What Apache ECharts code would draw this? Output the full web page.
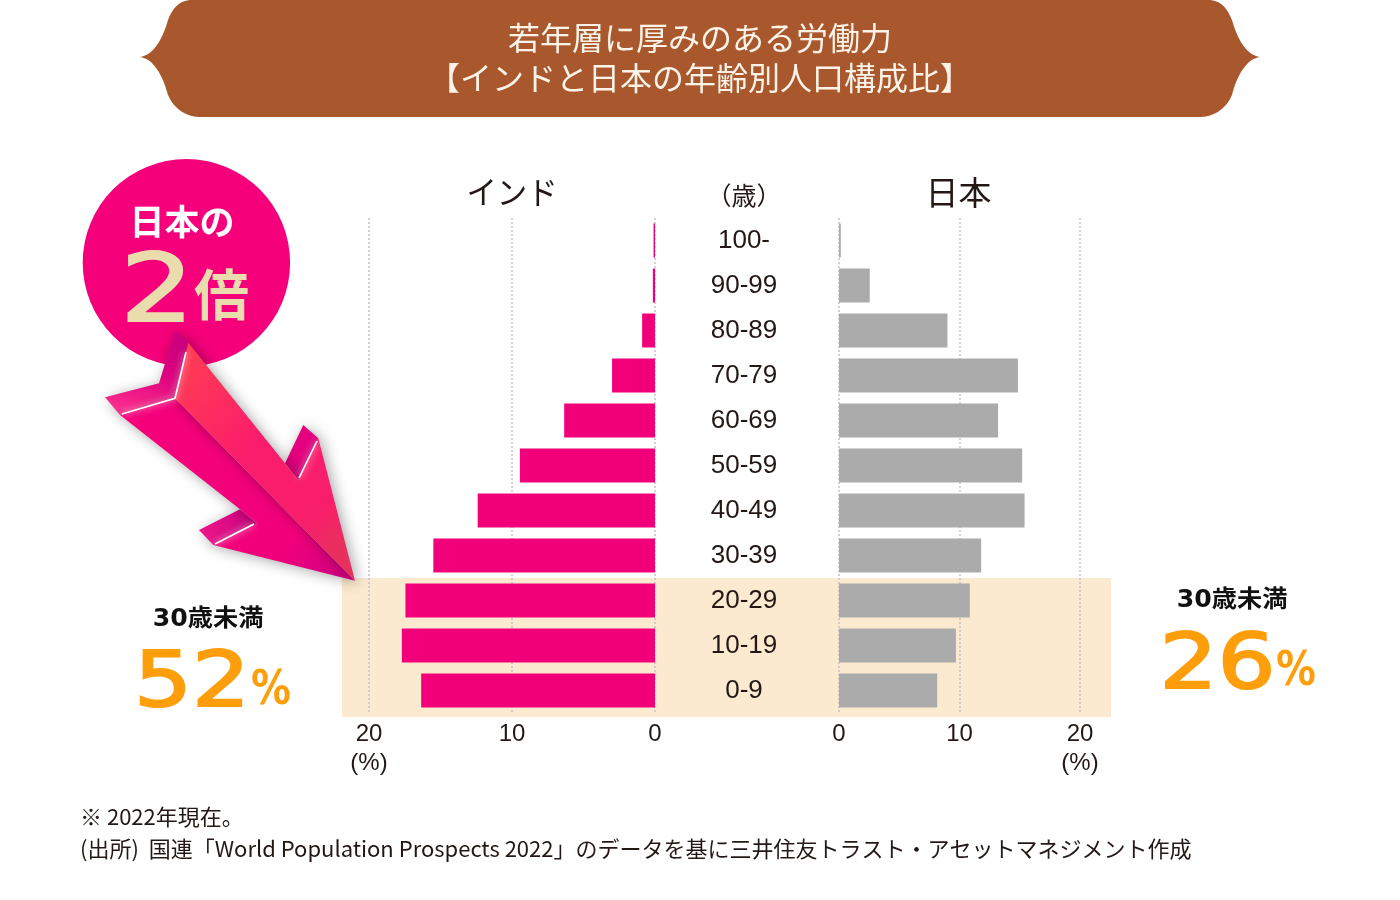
<!DOCTYPE html>
<html>
<head>
<meta charset="utf-8">
<style>
  html, body { margin: 0; padding: 0; background: #fff; }
  #main { width: 1400px; height: 900px; }
</style>
<script src="https://cdn.jsdelivr.net/npm/echarts@6/dist/echarts.min.js"></script>
</head>
<body>
<div id="main"></div>
<script>
const ageGroups = ['100-', '90-99', '80-89', '70-79', '60-69', '50-59', '40-49', '30-39', '20-29', '10-19', '0-9'];
const indiaShare = [0.1, 0.15, 0.9, 3.0, 6.35, 9.45, 12.4, 15.5, 17.45, 17.7, 16.35];
const japanShare = [0.15, 2.55, 9.0, 14.85, 13.2, 15.2, 15.4, 11.8, 10.85, 9.7, 8.15];

const JP = "'Noto Sans CJK JP'";
const NUM = "'Liberation Sans', 'Noto Sans CJK JP'";
const TECH = "'DejaVu Sans', 'Noto Sans CJK JP'";
const INK = '#231815';
const PINK = '#F2007A';
const GREY = '#ABABAB';
const ORANGE = '#FF9E0B';
const GOLD = '#EBDCAE';

// タイトルの帯（両端がとがった形）
echarts.graphic.registerShape('banner', echarts.graphic.extendShape({
  buildPath(ctx) {
    ctx.moveTo(192, 0);
    ctx.lineTo(1208, 0);
    ctx.bezierCurveTo(1222, 0, 1228, 10, 1232, 20);
    ctx.bezierCurveTo(1237, 38, 1246, 55, 1260, 57);
    ctx.bezierCurveTo(1246, 59, 1237, 76, 1232, 95);
    ctx.bezierCurveTo(1226, 110, 1212, 117, 1200, 117);
    ctx.lineTo(200, 117);
    ctx.bezierCurveTo(188, 117, 174, 110, 168, 95);
    ctx.bezierCurveTo(163, 76, 154, 59, 140, 57);
    ctx.bezierCurveTo(154, 55, 163, 38, 168, 20);
    ctx.bezierCurveTo(172, 10, 178, 0, 192, 0);
    ctx.closePath();
  }
}));

const myChart = echarts.init(document.getElementById('main'), null, { renderer: 'canvas' });

const grad = (x, y, x2, y2, stops) => new echarts.graphic.LinearGradient(x, y, x2, y2, stops);

function txt(x, y, text, font, fill, extra, sx, sy) {
  return {
    type: 'text', x: x, y: y, z: 5, scaleX: sx || 1, scaleY: sy || 1,
    style: Object.assign({
      text: text, font: font, fill: fill, textAlign: 'center', textVerticalAlign: 'middle'
    }, extra || {})
  };
}
function poly(points, fill, z, shadow) {
  const style = { fill: fill };
  if (shadow) {
    style.shadowBlur = 14;
    style.shadowColor = 'rgba(0,0,0,0.35)';
    style.shadowOffsetX = 3;
    style.shadowOffsetY = 2;
  }
  return { type: 'polygon', z: z, shape: { points: points }, style: style };
}
function shine(points) {
  return {
    type: 'polyline', z: 13,
    shape: { points: points },
    style: { stroke: '#fff', lineWidth: 1.6, fill: null, shadowBlur: 7, shadowColor: '#fff' }
  };
}

// 帯、吹き出し、矢印
const decorations = [
  { type: 'banner', z: 1, style: { fill: '#A9572C' } },
  { type: 'rect', z: -1, shape: { x: 342, y: 578, width: 769, height: 139 }, style: { fill: '#FBEACF' } },
  { type: 'circle', z: 3, shape: { cx: 186.4, cy: 262.7, r: 103.7 }, style: { fill: '#F5007A' } },

  // 矢印の折り返し
  poly([[175, 331], [188.3, 342.7], [175, 398.3], [120, 415], [105, 397.3], [159, 383.3]],
    grad(0.7, 0, 0.5, 1, [{ offset: 0, color: '#C9007F' }, { offset: 0.5, color: '#DE007E' }, { offset: 1, color: '#FF2E90' }]), 10, true),
  poly([[303.3, 425], [318.3, 438.3], [298.3, 480], [285, 463.3]], '#E4007F', 10, true),
  poly([[240, 509.3], [256.7, 523.3], [213.3, 545], [199, 530]],
    grad(1, 0, 0, 1, [{ offset: 0, color: '#C9007F' }, { offset: 1, color: '#F2188C' }]), 10, true),
  // 矢印の下面
  poly([[175, 398.3], [120, 415], [240, 509.3], [256.7, 523.3], [213.3, 545], [355, 580.7]],
    grad(0, 0, 1, 1, [{ offset: 0, color: '#F5007A' }, { offset: 0.75, color: '#F2007C' }, { offset: 1, color: '#C9007F' }]), 11, true),
  // 矢印の上面
  poly([[188.3, 342.7], [285, 463.3], [298.3, 480], [318.3, 438.3], [355, 580.7], [175, 398.3]],
    grad(0, 0, 1, 0.8, [{ offset: 0, color: '#FF4150' }, { offset: 0.5, color: '#FA1C6C' }, { offset: 0.85, color: '#F81F6A' }, { offset: 1, color: '#E8305E' }]), 12, true),

  shine([[186, 352], [175, 398.3], [122, 414]]),
  shine([[317, 441], [299, 478]]),
  shine([[254, 524], [215, 544]]),

  // タイトル
  txt(700, 38, '若年層に厚みのある労働力', '400 32px ' + JP, '#FBF3E8'),
  txt(700, 78, '【インドと日本の年齢別人口構成比】', '400 32px ' + JP, '#FBF3E8'),

  // 列見出し
  txt(512, 192, 'インド', '400 32px ' + JP, INK, null, 0.95),
  txt(744, 195, '（歳）', '400 25px ' + JP, INK),
  txt(958.5, 192, '日本', '400 33px ' + JP, INK),

  // 吹き出しの文字
  txt(182, 222, '日本の', '700 35px ' + JP, '#fff'),
  txt(157, 296, '2', '400 95px ' + TECH, GOLD, { stroke: GOLD, lineWidth: 2 }, 1.22),
  txt(221.5, 294.5, '倍', '700 55px ' + JP, GOLD),

  // 30歳未満
  txt(208, 620, '30歳未満', '700 24px ' + TECH, '#111', null, 1.05),
  txt(192, 686, '52', '400 76px ' + TECH, ORANGE, { stroke: ORANGE, lineWidth: 2 }, 1.2),
  txt(271, 691.5, '%', '700 48px ' + TECH, ORANGE, null, 0.83),
  txt(1232, 601, '30歳未満', '700 24px ' + TECH, '#111', null, 1.05),
  txt(1217.5, 668, '26', '400 76px ' + TECH, ORANGE, { stroke: ORANGE, lineWidth: 2 }, 1.2),
  txt(1296, 673, '%', '700 48px ' + TECH, ORANGE, null, 0.83),

  // 注記
  txt(80, 817, '※ 2022年現在。', '400 22px ' + JP, INK, { textAlign: 'left' }),
  txt(80, 849, '(出所)  国連「World Population Prospects 2022」のデータを基に三井住友トラスト・アセットマネジメント作成', '400 22px ' + JP, INK, { textAlign: 'left' })
];

const valueAxis = (gridIndex, max, inverse) => ({
  type: 'value',
  gridIndex: gridIndex,
  min: 0,
  max: max,
  interval: 10,
  inverse: inverse,
  position: 'bottom',
  axisLine: { show: false },
  axisTick: { show: false },
  axisLabel: {
    color: INK,
    fontFamily: NUM,
    fontSize: 24,
    margin: 7,
    lineHeight: 29,
    formatter: v => (v === 20 ? '20\n(%)' : String(v))
  },
  splitLine: { show: true, lineStyle: { color: '#C4C4C4', type: [2, 2], width: 1.5 } }
});

const option = {
  animation: false,
  backgroundColor: '#fff',
  textStyle: { fontFamily: JP },
  grid: [
    { left: 369, top: 218, width: 286, height: 495 },
    { left: 839, top: 218, width: 241, height: 495 }
  ],
  xAxis: [valueAxis(0, 20, true), valueAxis(1, 20, false)],
  yAxis: [
    {
      type: 'category', gridIndex: 0, data: ageGroups, inverse: true, position: 'right',
      axisLine: { show: false }, axisTick: { show: false }, axisLabel: { show: false }
    },
    {
      type: 'category', gridIndex: 1, data: ageGroups, inverse: true, position: 'left',
      axisLine: { show: false }, axisTick: { show: false },
      axisLabel: { color: INK, fontFamily: NUM, fontSize: 26, align: 'center', margin: 95, padding: [4, 0, 0, 0] }
    }
  ],
  series: [
    { name: 'インド', type: 'bar', xAxisIndex: 0, yAxisIndex: 0, data: indiaShare, barWidth: 34, itemStyle: { color: PINK } },
    { name: '日本', type: 'bar', xAxisIndex: 1, yAxisIndex: 1, data: japanShare, barWidth: 34, itemStyle: { color: GREY } }
  ],
  graphic: { elements: decorations }
};

myChart.setOption(option);
</script>
</body>
</html>
